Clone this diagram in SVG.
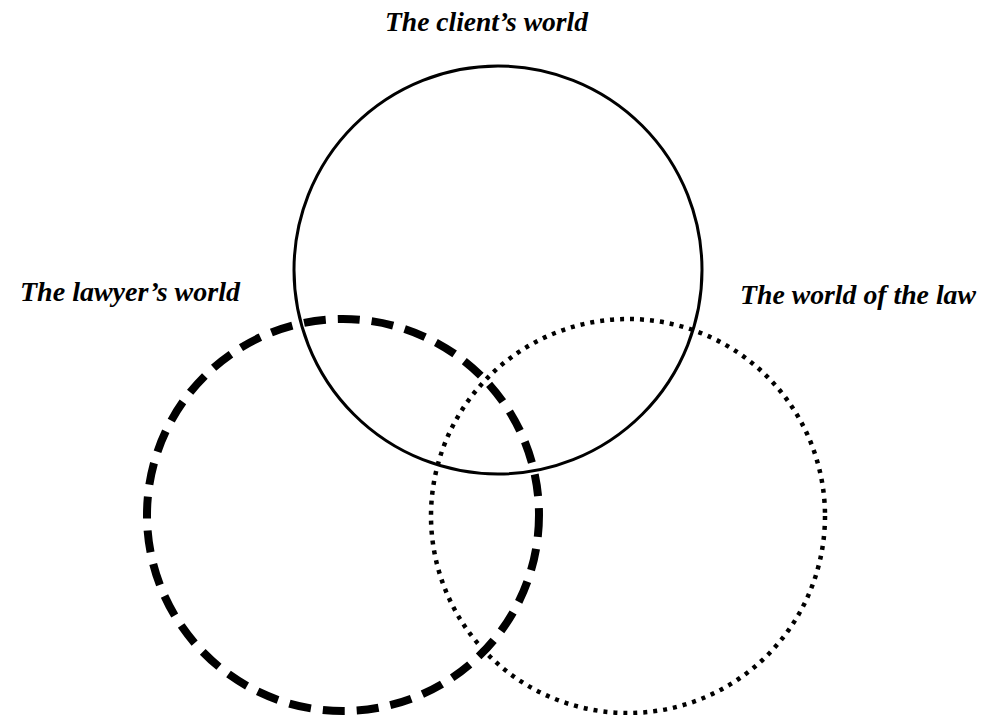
<svg xmlns="http://www.w3.org/2000/svg" width="983" height="715" viewBox="0 0 983 715">
<style>
.lbl{font-family:"Liberation Serif","Times New Roman",serif;font-style:italic;font-weight:bold;font-size:27.5px;fill:#000}
.c{fill:none;stroke:#000}
</style>
<rect width="983" height="715" fill="#fff"/>
<g id="client">
<circle class="c" cx="498" cy="270" r="204" stroke-width="3"/>
<text class="lbl" x="385" y="31" textLength="203" lengthAdjust="spacingAndGlyphs">The client’s world</text>
</g>
<g id="lawyer">
<circle class="c" cx="343" cy="515" r="196" stroke-width="8" stroke-dasharray="22 12"/>
<text class="lbl" x="20" y="301" textLength="220" lengthAdjust="spacingAndGlyphs">The lawyer’s world</text>
</g>
<g id="law">
<circle class="c" cx="628" cy="516" r="197" stroke-width="4.5" stroke-dasharray="4 6"/>
<text class="lbl" x="740" y="304" textLength="236" lengthAdjust="spacingAndGlyphs">The world of the law</text>
</g>
<g id="connectors"></g>
</svg>
